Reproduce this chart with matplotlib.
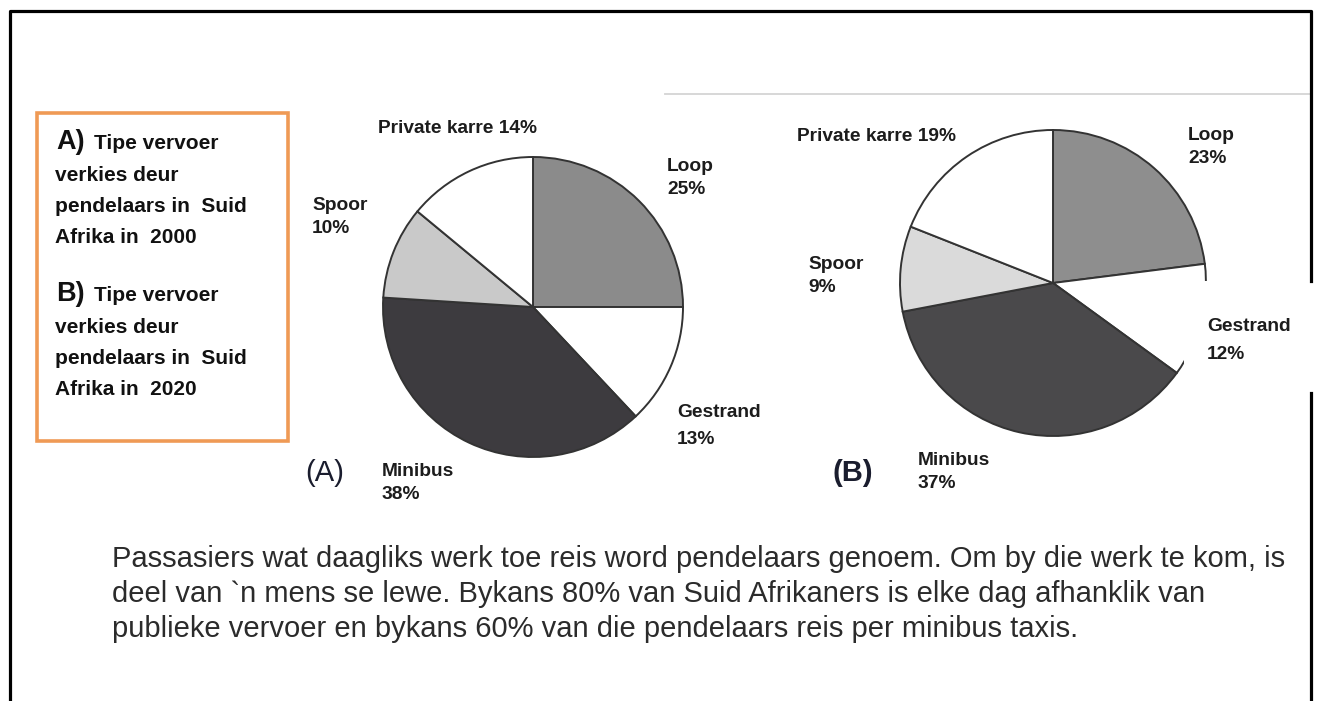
import matplotlib
matplotlib.use("Agg")
import matplotlib.pyplot as plt
from matplotlib.patches import Rectangle
from matplotlib.lines import Line2D

# data: transport choices of commuters (%)
categories = ["Loop", "Gestrand", "Minibus", "Spoor", "Private karre"]
share_2000 = [25, 13, 38, 10, 14]
share_2020 = [23, 12, 37, 9, 19]
colors_2000 = ["#8b8b8b", "#ffffff", "#3d3b3f", "#c9c9c9", "#ffffff"]
colors_2020 = ["#8e8e8e", "#ffffff", "#4a494b", "#dadada", "#ffffff"]

box_lines = ["verkies deur", "pendelaars in  Suid"]
paragraph = [
    "Passasiers wat daagliks werk toe reis word pendelaars genoem. Om by die werk te kom, is",
    "deel van `n mens se lewe. Bykans 80% van Suid Afrikaners is elke dag afhanklik van",
    "publieke vervoer en bykans 60% van die pendelaars reis per minibus taxis.",
]

W, H = 1322, 701
fig = plt.figure(figsize=(W / 100, H / 100), dpi=100)
ax = fig.add_axes([0, 0, 1, 1])

arial = ["Liberation Sans", "DejaVu Sans"]
wp = dict(edgecolor="#333333", linewidth=1.4)

# y axis is inverted (pixel coords), so counterclock=True draws clockwise on screen
ax.pie(share_2000, colors=colors_2000, center=(533, 307), radius=150,
       startangle=-90, counterclock=True, wedgeprops=wp, frame=True)
ax.pie(share_2020, colors=colors_2020, center=(1053, 283), radius=153,
       startangle=-90, counterclock=True, wedgeprops=wp, frame=True)

ax.set_xlim(0, W)
ax.set_ylim(H, 0)
ax.set_aspect("auto")
ax.axis("off")

# white patch pasted over the right of pie B (as in the source image)
ax.add_patch(Rectangle((1184, 281), 140, 110, facecolor="white", edgecolor="none", zorder=3))

# outer frame, broken on the right side
ax.add_line(Line2D([10, 10, 1311, 1311], [705, 11, 11, 281], color="black", lw=2.3, zorder=5))
ax.add_line(Line2D([1311, 1311], [393, 705], color="black", lw=2.3, zorder=5))
ax.add_line(Line2D([665, 1309], [94, 94], color="#d4d4d4", lw=1.3, zorder=2))

# orange legend box
ax.add_patch(Rectangle((37, 113), 251, 328, facecolor="white", edgecolor="#ef9a55", lw=2.6, zorder=4))
box = dict(fontsize=15, fontweight="bold", family=arial, color="#111111", va="baseline", zorder=6)
for letter, year, y0 in [("A", "2000", 149), ("B", "2020", 301)]:
    ax.text(56, y0, letter + ")", **{**box, "fontsize": 19.5})
    ax.text(94, y0, "Tipe vervoer", **box)
    ax.text(55, y0 + 32, box_lines[0], **box)
    ax.text(55, y0 + 63, box_lines[1], **box)
    ax.text(55, y0 + 94, "Afrika in  " + year, **box)

# slice labels
lab = dict(fontsize=13.8, fontweight="bold", family=arial, color="#1c1c1c",
           va="baseline", zorder=6)


def label(x, y, name, value, gap=23):
    ax.text(x, y, name, **lab)
    ax.text(x, y + gap, f"{value}%", **lab)


ax.text(378, 133, f"{categories[4]} {share_2000[4]}%", **lab)
label(667, 171, categories[0], share_2000[0])
label(312, 210, categories[3], share_2000[3])
label(677, 417, categories[1], share_2000[1], gap=27)
label(382, 476, categories[2], share_2000[2])

ax.text(797, 141, f"{categories[4]} {share_2020[4]}%", **lab)
label(1188, 140, categories[0], share_2020[0])
label(808, 269, categories[3], share_2020[3])
label(1207, 331, categories[1], share_2020[1], gap=28)
label(918, 465, categories[2], share_2020[2])

ax.text(305, 481, "(A)", fontsize=21, family=arial, color="#1a1d2e", va="baseline", zorder=6)
ax.text(833, 481, "(B)", fontsize=21, fontweight="bold", family=arial, color="#1a1d2e",
        va="baseline", zorder=6)

# paragraph under the charts
for i, line in enumerate(paragraph):
    ax.text(112, 567 + 35 * i, line, fontsize=21, family=arial, color="#2b2b2b",
            va="baseline", zorder=6)

fig.savefig("out.png", dpi=100)
